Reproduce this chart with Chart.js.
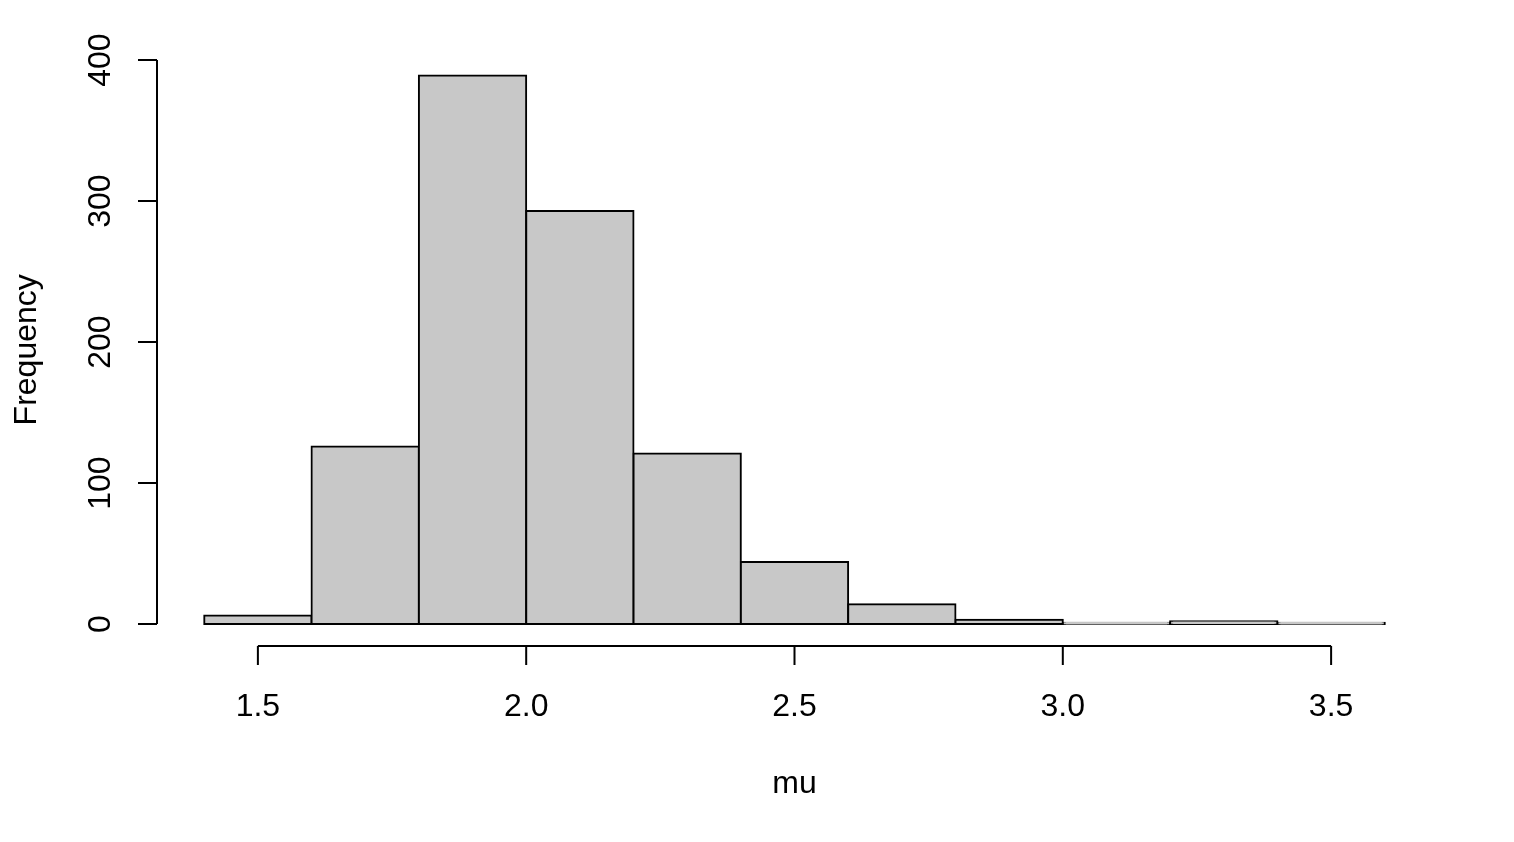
<!DOCTYPE html>
<html>
<head>
<meta charset="utf-8">
<script src="https://cdn.jsdelivr.net/npm/chart.js@4.4.0/dist/chart.umd.min.js"></script>
<style>
  html, body { margin: 0; padding: 0; background: #fff; }
  canvas { display: block; }
</style>
</head>
<body>
<canvas id="histCanvas" width="1514" height="842"></canvas>
<script>
// histogram of mu : bin edges + counts
const breaks = [1.4, 1.6, 1.8, 2.0, 2.2, 2.4, 2.6, 2.8, 3.0, 3.2, 3.4, 3.6];
const counts = [6, 126, 389, 293, 121, 44, 14, 3, 1, 2, 1];
const xTicks = [1.5, 2.0, 2.5, 3.0, 3.5];
const yTicks = [0, 100, 200, 300, 400];
const xTitle = "mu";
const yTitle = "Frequency";

const FONT = "32px 'Liberation Sans', Arial, Helvetica, sans-serif";

// one point per bin, centred between its two edges
const binData = counts.map((c, i) => ({ x: (breaks[i] + breaks[i + 1]) / 2, y: c }));

// R style axis range: data range stretched by 4% each side
const xLo = breaks[0], xHi = breaks[breaks.length - 1];
const yHi = Math.max(...counts);
const xPad = (xHi - xLo) * 0.04;
const yPad = yHi * 0.04;

// draws the R like axes (line only between first and last tick)
const rAxes = {
  id: "rAxes",
  afterDraw(chart) {
    const ctx = chart.ctx;
    const xs = chart.scales.x;
    const ys = chart.scales.y;
    const area = chart.chartArea;
    const tick = 19;

    ctx.save();
    ctx.strokeStyle = "#000";
    ctx.fillStyle = "#000";
    ctx.lineWidth = 2;
    ctx.font = FONT;

    // x axis
    const xa = xs.getPixelForValue(xTicks[0]);
    const xb = xs.getPixelForValue(xTicks[xTicks.length - 1]);
    const yAxisLine = area.bottom;
    ctx.beginPath();
    ctx.moveTo(xa, yAxisLine);
    ctx.lineTo(xb, yAxisLine);
    xTicks.forEach(v => {
      const px = xs.getPixelForValue(v);
      ctx.moveTo(px, yAxisLine);
      ctx.lineTo(px, yAxisLine + tick);
    });
    ctx.stroke();
    ctx.textAlign = "center";
    ctx.textBaseline = "alphabetic";
    xTicks.forEach(v => {
      ctx.fillText(v.toFixed(1), xs.getPixelForValue(v), 716);
    });

    // y axis
    const ya = ys.getPixelForValue(yTicks[0]);
    const yb = ys.getPixelForValue(yTicks[yTicks.length - 1]);
    const xAxisLine = area.left;
    ctx.beginPath();
    ctx.moveTo(xAxisLine, ya);
    ctx.lineTo(xAxisLine, yb);
    yTicks.forEach(v => {
      const py = ys.getPixelForValue(v);
      ctx.moveTo(xAxisLine, py);
      ctx.lineTo(xAxisLine - tick, py);
    });
    ctx.stroke();
    yTicks.forEach(v => {
      ctx.save();
      ctx.translate(110, ys.getPixelForValue(v));
      ctx.rotate(-Math.PI / 2);
      ctx.fillText(String(v), 0, 0);
      ctx.restore();
    });

    // titles
    const midX = (area.left + area.right) / 2;
    const midY = (area.top + area.bottom) / 2;
    ctx.fillText(xTitle, midX, 793);
    ctx.save();
    ctx.translate(36, midY);
    ctx.rotate(-Math.PI / 2);
    ctx.fillText(yTitle, 0, 0);
    ctx.restore();

    ctx.restore();
  }
};

new Chart(document.getElementById("histCanvas"), {
  type: "bar",
  data: {
    datasets: [{
      data: binData,
      backgroundColor: "#c8c8c8",
      borderColor: "#000",
      borderWidth: 2,
      borderSkipped: false,
      inflateAmount: 1,
      barPercentage: 1,
      categoryPercentage: 1
    }]
  },
  options: {
    responsive: false,
    animation: false,
    layout: { padding: { left: 157, right: 82, top: 53.6, bottom: 196 } },
    scales: {
      x: {
        type: "linear", offset: false, min: xLo - xPad, max: xHi + xPad, display: false,
        // bin edges as ticks so the bar width = one bin
        afterBuildTicks: s => { s.ticks = breaks.map(v => ({ value: v })); }
      },
      y: { type: "linear", min: -yPad, max: yHi + yPad, display: false }
    },
    plugins: {
      legend: { display: false },
      tooltip: { enabled: false }
    }
  },
  plugins: [rAxes]
});
</script>
</body>
</html>
